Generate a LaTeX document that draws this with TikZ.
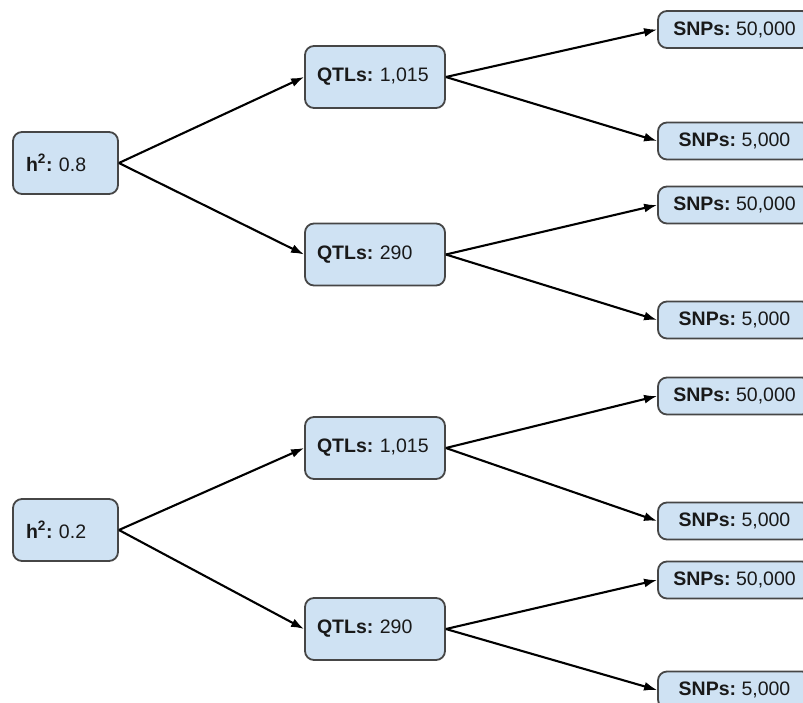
\documentclass[tikz,border=0pt]{standalone}
\usepackage{fontspec}
\setmainfont{Liberation Sans}
\usetikzlibrary{arrows.meta}
\usepackage{xcolor}
\definecolor{boxfill}{RGB}{207,226,243}
\definecolor{boxline}{RGB}{70,70,70}
\frenchspacing

\begin{document}
\begin{tikzpicture}[x=1pt,y=-1pt,
    box/.style={draw=boxline, fill=boxfill, rounded corners=9pt, line width=1.8pt,
      text=black!90, font=\fontsize{19.5}{23}\selectfont, inner ysep=0pt, minimum height=62pt},
    hbox/.style={box, text width=79pt, align=left, inner xsep=13pt},
    qbox/.style={box, text width=116pt, align=left, inner xsep=12pt},
    sbox/.style={box, minimum height=37pt, minimum width=153pt, inner xsep=0pt},
    link/.style={line width=2.1pt, -{Latex[length=13pt,width=9pt]}}]
      \useasboundingbox (0,0) rectangle (803,702);

      % Heritability
      \node[hbox] (h08) at (65.5,163) {\textbf{h\textsuperscript{2}:} 0.8};
      \node[hbox] (h02) at (65.5,530) {\textbf{h\textsuperscript{2}:} 0.2};

      % QTLs
      \node[qbox] (q08a) at (375,77)    {\textbf{QTLs:} 1,015};
      \node[qbox] (q08b) at (375,254.5) {\textbf{QTLs:} 290};
      \node[qbox] (q02a) at (375,448)   {\textbf{QTLs:} 1,015};
      \node[qbox] (q02b) at (375,629)   {\textbf{QTLs:} 290};

      % SNPs
      \node[sbox] (s08a1) at (734.5,29.5) {\textbf{SNPs:} 50,000};
      \node[sbox] (s08a2) at (734.5,141)  {\textbf{SNPs:} 5,000};
      \node[sbox] (s08b1) at (734.5,205)  {\textbf{SNPs:} 50,000};
      \node[sbox] (s08b2) at (734.5,320)  {\textbf{SNPs:} 5,000};
      \node[sbox] (s02a1) at (734.5,396)  {\textbf{SNPs:} 50,000};
      \node[sbox] (s02a2) at (734.5,521)  {\textbf{SNPs:} 5,000};
      \node[sbox] (s02b1) at (734.5,580)  {\textbf{SNPs:} 50,000};
      \node[sbox] (s02b2) at (734.5,690)  {\textbf{SNPs:} 5,000};

      % Arrows
      \foreach \h in {08,02}
      {
        \foreach \q in {a,b}
        {
          \draw[link] (h\h.east) -- (q\h\q.west);
          \draw[link] (q\h\q.east) -- (s\h\q1.west);
          \draw[link] (q\h\q.east) -- (s\h\q2.west);
        }
      }
  \end{tikzpicture}
\end{document}
